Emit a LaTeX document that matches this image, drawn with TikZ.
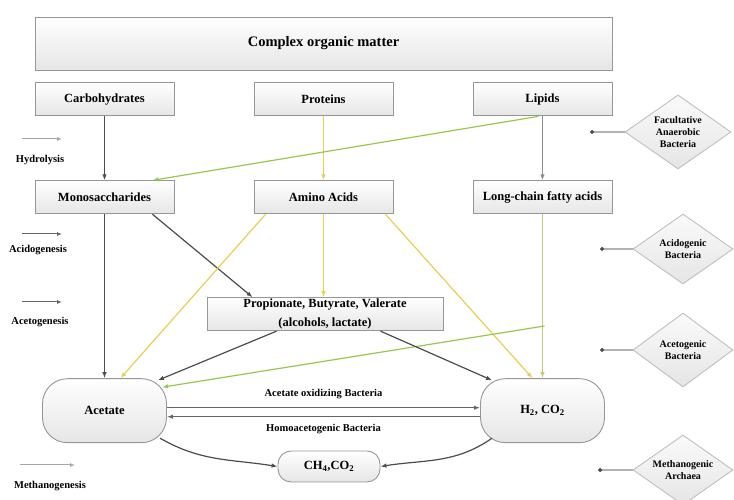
\documentclass[tikz,border=0pt]{standalone}
\usepackage{fontspec}
\setmainfont{Liberation Serif}
\usetikzlibrary{positioning, arrows.meta, shapes.geometric}

\definecolor{boxline}{RGB}{150,150,150}
\definecolor{yelc}{RGB}{230,208,80}
\definecolor{grnc}{RGB}{150,200,80}
\definecolor{olvc}{RGB}{195,205,115}

\begin{document}
\begin{tikzpicture}[x=1pt, y=1pt, node distance=12pt]
    \tikzstyle{block} = [rectangle,minimum width=139pt,minimum height=33pt,text centered,draw=boxline,line width=0.9pt,top color=white,bottom color=black!10,font=\fontsize{12.5}{14}\selectfont\bfseries]
    \tikzstyle{round} = [block,rounded corners=25pt,minimum width=124pt,minimum height=64pt]
    \tikzstyle{bact} = [diamond,aspect=1.4,draw=black!25,line width=0.9pt,top color=black!2,bottom color=black!10,minimum width=100pt,minimum height=70pt,inner sep=0pt,align=center,font=\fontsize{10}{12}\selectfont\bfseries]
    \tikzstyle{stage} = [font=\fontsize{10.5}{12}\selectfont\bfseries]
    \tikzstyle{leg} = [draw=black!60,line width=1pt,-{Latex[length=5pt,width=4pt]}]
    \tikzstyle{side} = [draw=black!30,line width=1.2pt,-{Circle[length=4pt,color=black!70]}]
    \tikzstyle{dflow} = [draw=black!70,line width=1.2pt,-{Latex[length=6pt,width=4.5pt]}]
    \tikzstyle{yflow} = [dflow,draw=yelc]
    \tikzstyle{gflow} = [dflow,draw=grnc]
    \tikzstyle{oflow} = [dflow,draw=black!45]
    \tikzstyle{lflow} = [dflow,draw=olvc]

    \useasboundingbox (0,0) rectangle (734,500);

    \node (cplx) [block,minimum width=577pt,minimum height=53pt,font=\fontsize{14.5}{16}\selectfont\bfseries] at (323.5,456.5) {Complex organic matter};

    \node (carb) [block,below right=12pt and 0pt of cplx.south west] {Carbohydrates};
    \node (prot) [block,below=12pt of cplx] {Proteins};
    \node (lip) [block,below left=12pt and 0pt of cplx.south east] {Lipids};

    \node (mono) [block,below=64pt of carb] {Monosaccharides};
    \node (amino) [block,below=64pt of prot] {Amino Acids};
    \node (lcfa) [block,below=64pt of lip] {Long-chain fatty acids};

    \node (prop) [block,minimum width=236pt,inner sep=0pt,align=center,font=\fontsize{12.5}{19}\selectfont\bfseries,below=83pt of amino,xshift=1.5pt] {Propionate, Butyrate, Valerate\\(alcohols, lactate)};

    \node (acet) [round,below=164pt of mono] {Acetate};
    \node (htwo) [round,below=164pt of lcfa] {H\textsubscript{2}, CO\textsubscript{2}};
    \node (meth) [round,rounded corners=13pt,minimum width=102pt,minimum height=31pt] at (329,33.5) {CH\textsubscript{4},CO\textsubscript{2}};

    % bacteria groups
    \node (facb) [bact,minimum width=106pt,minimum height=74pt] at (678,368) {Facultative\\Anaerobic\\Bacteria};
    \node (acidb) [bact] at (683,251) {Acidogenic\\Bacteria};
    \node (acetb) [bact,minimum height=74pt] at (683,150) {Acetogenic\\Bacteria};
    \node (methb) [bact] at (683,30) {Methanogenic\\Archaea};

    \coordinate (facd) at (590,368);
    \coordinate (acidd) at (600,251);
    \coordinate (acetd) at (600,150);
    \coordinate (methd) at (598,30);
    \draw [side] (facb.west) -- (facd);
    \draw [side] (acidb.west) -- (acidd);
    \draw [side] (acetb.west) -- (acetd);
    \draw [side] (methb.west) -- (methd);

    % stages
    \node (hydl) [stage] at (40,340) {Hydrolysis};
    \node (acidl) [stage] at (38,250) {Acidogenesis};
    \node (acetl) [stage] at (40,178) {Acetogenesis};
    \node (methl) [stage] at (50,14) {Methanogenesis};
    \coordinate (hydA) at (22,361);  \coordinate (hydB) at (62,361);
    \coordinate (acidA) at (22,266); \coordinate (acidB) at (62,266);
    \coordinate (acetA) at (22,198); \coordinate (acetB) at (62,198);
    \coordinate (methA) at (20,35);  \coordinate (methB) at (75,35);
    \draw [leg,draw=black!35] (hydA) -- (hydB);
    \draw [leg] (acidA) -- (acidB);
    \draw [leg] (acetA) -- (acetB);
    \draw [leg,draw=black!35] (methA) -- (methB);

    \draw [dflow] (carb) -- (mono);
    \draw [yflow] (prot) -- (amino);
    \draw [oflow] (lip) -- (lcfa);
    \draw [gflow] ([xshift=-4pt]lip.south) -- ([xshift=-22pt]mono.north east);

    \draw [dflow] (mono) -- (acet);
    \draw [dflow] ([xshift=-22pt]mono.south east) -- ([xshift=46pt]prop.north west);
    \draw [yflow] ([xshift=12pt]amino.south west) -- ([xshift=16pt]acet.north);
    \draw [yflow] (amino) -- (amino |- prop.north);
    \draw [yflow] ([xshift=-8pt]amino.south east) -- ([xshift=-10pt]htwo.north);
    \draw [lflow] (lcfa) -- (lcfa |- htwo.north);

    \coordinate (lcfabr) at (544.5,174);
    \draw [gflow] (lcfabr) -- ([xshift=-5pt,yshift=-9pt]acet.north east);

    \draw [dflow] ([xshift=70pt]prop.south west) -- ([xshift=-9pt,yshift=-2pt]acet.north east);
    \draw [dflow] ([xshift=-63pt]prop.south east) -- ([xshift=12pt,yshift=-2pt]htwo.north west);

    \draw [dflow,draw=black!60] ([yshift=3pt]acet.east) -- node [stage,yshift=14pt] {Acetate oxidizing Bacteria} ([yshift=3pt]htwo.west);
    \draw [dflow,draw=black!60] ([yshift=-6pt]htwo.west) -- node [stage,yshift=-12pt] {Homoacetogenic Bacteria} ([yshift=-6pt]acet.east);

    \draw [dflow] ([xshift=-7pt,yshift=5pt]acet.south east) to [out=-30,in=171] (meth.west);
    \draw [dflow] ([xshift=12pt,yshift=5pt]htwo.south west) to [out=-145,in=9] (meth.east);
\end{tikzpicture}
\end{document}
